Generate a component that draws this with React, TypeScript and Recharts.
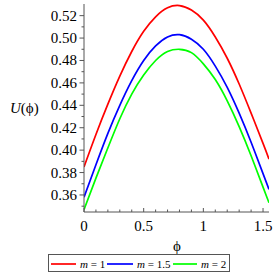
import React from 'react';
import { LineChart, Line, XAxis, YAxis } from 'recharts';

// phi sample points and values
const phi = [0, 0.1, 0.2, 0.3, 0.4, 0.5, 0.6, 0.7, 0.8, 0.9, 1.0, 1.1, 1.2, 1.3, 1.4, 1.5, 1.55];
const m1 = [0.385, 0.414, 0.441, 0.466, 0.488, 0.506, 0.519, 0.527, 0.529, 0.525, 0.516, 0.501, 0.482, 0.459, 0.433, 0.406, 0.392];
const m15 = [0.358, 0.387, 0.415, 0.44, 0.462, 0.48, 0.493, 0.501, 0.503, 0.499, 0.49, 0.475, 0.456, 0.433, 0.407, 0.379, 0.365];
const m2 = [0.347, 0.375, 0.402, 0.428, 0.45, 0.467, 0.48, 0.488, 0.49, 0.487, 0.477, 0.463, 0.444, 0.421, 0.395, 0.367, 0.353];

const xTicks = [0, 0.1, 0.2, 0.3, 0.4, 0.5, 0.6, 0.7, 0.8, 0.9, 1, 1.1, 1.2, 1.3, 1.4, 1.5];
const xLabels: Record<string, string> = { '0': '0', '0.5': '0.5', '1': '1', '1.5': '1.5' };
const yTicks = [0.35, 0.36, 0.37, 0.38, 0.39, 0.4, 0.41, 0.42, 0.43, 0.44, 0.45, 0.46, 0.47, 0.48, 0.49, 0.5, 0.51, 0.52];

const series = [
  { key: 'm1', name: '1', color: '#ff0000' },
  { key: 'm15', name: '1.5', color: '#0000ff' },
  { key: 'm2', name: '2', color: '#00ff00' },
];

const data = phi.map((p, i) => ({ phi: p, m1: m1[i], m15: m15[i], m2: m2[i] }));

const FONT = '"Liberation Serif", "Times New Roman", serif';
const AXIS = '#555';

const XTick = (props: any) => {
  const { x, y, payload } = props;
  const label = xLabels[String(payload.value)];
  const major = label !== undefined;
  return (
    <g>
      <line x1={x} x2={x} y1={y} y2={y - (major ? 4 : 2.5)} stroke={AXIS} strokeWidth={1} />
      {major && (
        <text x={x} y={y + 19} textAnchor="middle" fontFamily={FONT} fontSize={15} fill="#000">
          {label}
        </text>
      )}
    </g>
  );
};

const YTick = (props: any) => {
  const { x, y, payload } = props;
  const hundredths = Math.round(payload.value * 100);
  const major = hundredths % 2 === 0;
  return (
    <g>
      <line x1={x - (major ? 4.5 : 2.5)} x2={x} y1={y} y2={y} stroke={AXIS} strokeWidth={1} />
      {major && (
        <text x={x - 7} y={y + 5} textAnchor="end" fontFamily={FONT} fontSize={15} fill="#000">
          {payload.value.toFixed(2)}
        </text>
      )}
    </g>
  );
};

const legendItems = [
  { line: [51, 76], text: 80 },
  { line: [107, 133], text: 137 },
  { line: [173, 197], text: 201 },
];

export default function App() {
  return (
    <div style={{ position: 'absolute', left: 0, top: 0, width: 278, height: 278, background: '#fff' }}>
      <LineChart
        width={278}
        height={278}
        data={data}
        margin={{ top: 4, right: 9, left: 0, bottom: 36 }}
      >
        <XAxis
          dataKey="phi"
          type="number"
          domain={[0, 1.55]}
          allowDataOverflow
          ticks={xTicks}
          interval={0}
          tickSize={0}
          tickMargin={0}
          tick={<XTick />}
          height={30}
          stroke={AXIS}
        />
        <YAxis
          type="number"
          domain={[0.3448, 0.5304]}
          allowDataOverflow
          ticks={yTicks}
          interval={0}
          tickSize={0}
          tickMargin={0}
          tick={<YTick />}
          width={84}
          stroke={AXIS}
        />
        {series.map((s) => (
          <Line
            key={s.key}
            dataKey={s.key}
            type="natural"
            stroke={s.color}
            strokeWidth={1.7}
            dot={false}
            activeDot={false}
            isAnimationActive={false}
          />
        ))}
      </LineChart>
      <svg
        width={278}
        height={278}
        style={{ position: 'absolute', left: 0, top: 0, pointerEvents: 'none' }}
      >
        <text x={10} y={113} fontFamily={FONT} fontSize={15} fill="#000">
          <tspan fontStyle="italic">U</tspan>(ϕ)
        </text>
        <text x={177} y={251} textAnchor="middle" fontFamily={FONT} fontSize={15} fill="#000">
          ϕ
        </text>
        <rect x={48.5} y={254.5} width={181} height={17} fill="#fff" stroke={AXIS} strokeWidth={1} />
        {series.map((s, i) => (
          <g key={s.key}>
            <line
              x1={legendItems[i].line[0]}
              x2={legendItems[i].line[1]}
              y1={264}
              y2={264}
              stroke={s.color}
              strokeWidth={1.7}
            />
            <text x={legendItems[i].text} y={268} fontFamily={FONT} fontSize={11} fill="#000">
              <tspan fontStyle="italic">m</tspan> = {s.name}
            </text>
          </g>
        ))}
      </svg>
    </div>
  );
}
